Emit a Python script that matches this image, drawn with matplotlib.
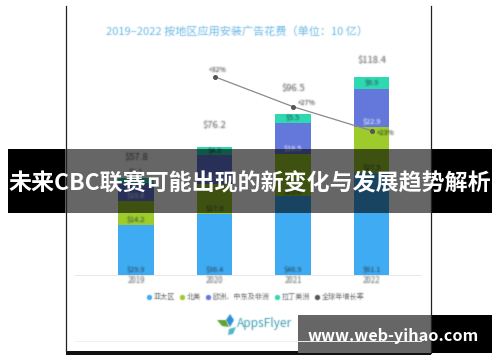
import numpy as np
import matplotlib
matplotlib.use('Agg')
import matplotlib.pyplot as plt
from matplotlib.lines import Line2D
from matplotlib.patches import Rectangle, Polygon

plt.rcParams['font.family'] = ['Noto Sans CJK SC', 'DejaVu Sans']

years = ['2019', '2020', '2021', '2022']
apac = [29.9, 36.4, 46.9, 61.1]
north_america = [14.2, 17.9, 25.6, 27.5]
emea = [10.6, 17.6, 18.5, 22.9]
latam = [3.1, 4.3, 5.5, 6.9]
totals = ['$57.8', '$76.2', '$96.5', '$118.4']
growth_years = [1, 2, 3]
growth = [32, 27, 23]

series_names = ['亚太区', '北美', '欧洲、中东及非洲', '拉丁美洲', '全球年增长率']
colors = ['#3fabf3', '#9ccb2b', '#6478dc', '#2fd9b0', '#555555']
title = '2019–2022 按地区应用安装广告花费（单位：10 亿）'
banner = '未来CBC联赛可能出现的新变化与发展趋势解析'
site = 'www.web-yihao.com'

W, H = 500, 362


# the reference is a soft, upscaled picture
def blur(img, dpi):
    pad = 3
    img = np.pad(img, ((pad, pad), (pad, pad), (0, 0)))
    a = img[..., 3:4]
    rgb = img[..., :3] * a
    out = np.concatenate([rgb, a], axis=2)
    kernel = np.array([0.17, 0.66, 0.17])
    for axis in (0, 1):
        out = np.apply_along_axis(lambda m: np.convolve(m, kernel, mode='same'), axis, out)
    alpha = out[..., 3:4]
    out[..., :3] = np.where(alpha > 0, out[..., :3] / np.maximum(alpha, 1e-6), 0)
    return np.clip(out, 0, 1), -pad, -pad


fig = plt.figure(figsize=(W / 100, H / 100), dpi=100, facecolor='white')

# chart axes, baseline at y=274.7px
ax = fig.add_axes([75 / W, (H - 274.7) / H, 346 / W, 214.7 / H])
ax.set_xlim(-0.777, 3.63)
ax.set_ylim(0, 128.6)
ax.axis('off')

x = np.arange(len(years))
bottom = np.zeros(4)
for vals, c, kind in zip([apac, north_america, emea, latam], colors, ['a', 'n', 'e', 'l']):
    ax.bar(x, vals, 0.455, bottom=bottom, color=c, linewidth=0)
    for i, v in enumerate(vals):
        if kind == 'l':
            y, off = bottom[i] + v / 2, 0
            if i == 0:
                y, off = bottom[i] + v, 4.5
        else:
            y, off = bottom[i], 3.6
        t = ax.annotate('$%.1f' % v, (i, y), xytext=(0, off), textcoords='offset points',
                        ha='center', va='center', fontsize=5.3,
                        color='white' if kind == 'e' else '#24434f')
        t.set_agg_filter(blur)
    bottom += np.array(vals)

total_gap = [15, 16, 18, 12]
for i, s in enumerate(totals):
    t = ax.annotate(s, (i, bottom[i]), xytext=(0, total_gap[i]), textcoords='offset points',
                    ha='center', va='center', fontsize=6.8, color='#555555')
    t.set_agg_filter(blur)

base = Line2D([0, 1], [0, 0], transform=ax.transAxes, color='#e8e8e8', lw=0.7, clip_on=False)
ax.add_line(base)

for i, y in enumerate(years):
    t = ax.annotate(y, (i, 0), xytext=(0, -4.5), textcoords='offset points',
                    ha='center', va='center', fontsize=5.7, color='#666666')
    t.set_agg_filter(blur)

# growth line on its own scale
ax2 = ax.twinx()
ax2.set_ylim(-1, 34.78)
ax2.axis('off')
line, = ax2.plot(growth_years, growth, color='#8a8a8a', lw=0.9, marker='o', ms=2.6,
                 mfc='#555555', mec='#555555')
growth_off = [(2, 5), (10, 2.5), (10, -2)]
for gx, g, off in zip(growth_years, growth, growth_off):
    t = ax2.annotate('+%d%%' % g, (gx, g), xytext=off, textcoords='offset points',
                     ha='center', va='center', fontsize=5, color='#222222')
    t.set_agg_filter(blur)

handles = [Line2D([], [], ls='', marker='o', ms=2.8, color=c) for c in colors]
leg = fig.legend(handles, series_names, ncol=5, loc='center', bbox_to_anchor=(255 / W, 1 - 297 / H),
                 frameon=False, fontsize=5.1, labelcolor='#666666', handletextpad=0.1,
                 columnspacing=0.55, handlelength=1.0, borderpad=0)
leg.set_agg_filter(blur)

# everything in pixel coordinates from here on: card, logo, overlays
ov = fig.add_axes([0, 0, 1, 1], zorder=5)
ov.set_xlim(0, W)
ov.set_ylim(H, 0)
ov.axis('off')
ov.patch.set_alpha(0)

ov.text(237, 31, title, color='#69b9e6', fontsize=8, ha='center', va='center', agg_filter=blur)

# card edges
ov.plot([65.5, 65.5], [6, 351], color='#222222', lw=0.9)
ov.plot([431, 431], [6, 353], color='#222222', lw=0.9)
ov.add_patch(Rectangle((66, 351), 365, 4, color='#111111', lw=0))
ov.plot([75, 421], [341, 341], color='#f0f0f0', lw=0.7)

# logo
ov.add_patch(Polygon([(230, 314), (234, 320), (230, 327), (226, 320)], color='#2f8fd6', lw=0, agg_filter=blur))
ov.add_patch(Polygon([(217, 320), (226, 320), (229, 327), (222, 326)], color='#5fa33a', lw=0, agg_filter=blur))
ov.add_patch(Polygon([(229, 329), (236, 327), (233, 334), (228, 335)], color='#4fb8c8', lw=0, agg_filter=blur))
ov.text(237, 324, 'AppsFlyer', color='#3c9fb0', fontsize=8.6, ha='left', va='center', agg_filter=blur)

# banner: solid black over the page, see-through over the card
ov.add_patch(Rectangle((8, 149), 57, 64, color='black', lw=0))
ov.add_patch(Rectangle((431, 149), 61, 64, color='black', lw=0))
ov.add_patch(Rectangle((65, 149), 366, 64, color='black', alpha=0.6, lw=0))
ov.text(250, 184, banner, color='white', fontsize=16.55, fontweight='bold', ha='center', va='center')

# site tag
ov.add_patch(Rectangle((431, 315), 61, 38, color='black', lw=0))
ov.add_patch(Rectangle((298, 315), 133, 38, color='#666666', lw=0))
ov.text(393.5, 336, site, color='white', fontsize=11.7, fontweight='bold', ha='center', va='center')

fig.savefig('out.png', dpi=100)
